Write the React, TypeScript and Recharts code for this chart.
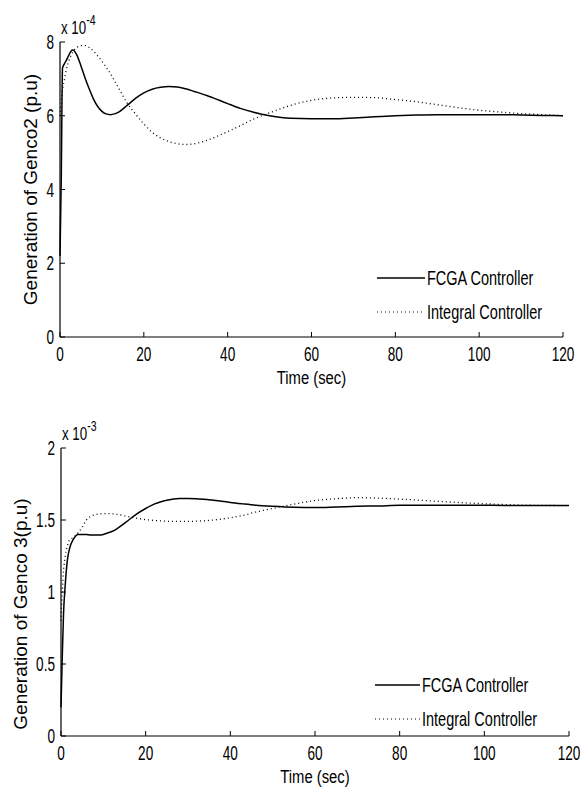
import React from 'react';
import { LineChart, Line, XAxis, YAxis, Legend } from 'recharts';

// shared time grid (sec)
const timeSec = [0, 0.3, 0.6, 1, 1.5, 2, 3, 4, 5, 6, 7, 8, 9, 10, 11, 12, 13, 14, 16, 18, 20, 22, 24, 26, 28, 30, 32, 35, 38, 40, 43, 46, 50, 55, 60, 65, 70, 75, 80, 85, 90, 95, 100, 105, 110, 115, 120];

// Genco2, units of 1e-4 p.u
const genco2Fcga = [2.2, 4.3, 7.3, 7.4, 7.5, 7.62, 7.78, 7.65, 7.35, 7.02, 6.72, 6.45, 6.25, 6.12, 6.05, 6.03, 6.05, 6.1, 6.28, 6.47, 6.62, 6.72, 6.77, 6.79, 6.78, 6.73, 6.66, 6.55, 6.42, 6.33, 6.2, 6.1, 6.0, 5.93, 5.92, 5.92, 5.94, 5.97, 6.0, 6.02, 6.03, 6.03, 6.03, 6.03, 6.02, 6.01, 6.0];
const genco2Integral = [6.0, 6.4, 6.7, 6.95, 7.25, 7.45, 7.72, 7.85, 7.9, 7.9, 7.85, 7.75, 7.62, 7.48, 7.32, 7.15, 6.95, 6.75, 6.35, 6.05, 5.78, 5.55, 5.4, 5.3, 5.24, 5.22, 5.24, 5.33, 5.47, 5.57, 5.73, 5.9, 6.08, 6.28, 6.42, 6.48, 6.5, 6.49, 6.44, 6.38, 6.3, 6.22, 6.15, 6.1, 6.06, 6.03, 6.0];

// Genco3, units of 1e-3 p.u
const genco3Fcga = [0.2, 0.55, 0.85, 1.05, 1.22, 1.3, 1.37, 1.4, 1.4, 1.4, 1.395, 1.395, 1.395, 1.4, 1.41, 1.42, 1.435, 1.455, 1.5, 1.545, 1.58, 1.61, 1.63, 1.643, 1.65, 1.65, 1.648, 1.64, 1.63, 1.622, 1.612, 1.603, 1.595, 1.588, 1.586, 1.59, 1.595, 1.598, 1.602, 1.603, 1.603, 1.602, 1.602, 1.601, 1.6, 1.6, 1.6];
const genco3Integral = [0.8, 1.0, 1.15, 1.25, 1.32, 1.36, 1.38, 1.41, 1.45, 1.5, 1.525, 1.537, 1.542, 1.544, 1.544, 1.543, 1.54, 1.535, 1.523, 1.512, 1.503, 1.497, 1.493, 1.49, 1.49, 1.49, 1.492, 1.497, 1.507, 1.515, 1.532, 1.555, 1.58, 1.61, 1.635, 1.648, 1.655, 1.652, 1.645, 1.637, 1.628, 1.62, 1.613, 1.607, 1.603, 1.601, 1.6];

const xTicks = [0, 20, 40, 60, 80, 100, 120];
const yTicksTop = [0, 2, 4, 6, 8];
const yTicksBottom = [0, 0.5, 1, 1.5, 2];

const SANS = '"Liberation Sans", Arial, sans-serif';

const top = timeSec.map((t, i) => ({ t, fcga: genco2Fcga[i], integral: genco2Integral[i] }));
const bottom = timeSec.map((t, i) => ({ t, fcga: genco3Fcga[i], integral: genco3Integral[i] }));

// matlab-ish tall condensed labels
const XTick = ({ x, y, payload }: any) => (
  <text transform={`translate(${x},${y}) scale(0.68,1)`} textAnchor="middle" dy="0.72em"
    fontFamily={SANS} fontSize={20} fill="#000">{payload.value}</text>
);
const YTick = ({ x, y, payload }: any) => (
  <text transform={`translate(${x},${y}) scale(0.68,1)`} textAnchor="end" dy="0.36em"
    fontFamily={SANS} fontSize={20} fill="#000">{payload.value}</text>
);

const YLabel = ({ viewBox, text, lx, shift }: any) => {
  const cy = viewBox.y + viewBox.height / 2 + shift;
  return (
    <text x={lx} y={cy} transform={`rotate(-90, ${lx}, ${cy})`} textAnchor="middle" dominantBaseline="central"
      fontFamily={SANS} fontSize={19} fill="#000">{text}</text>
  );
};

const XLabel = ({ viewBox }: any) => {
  const cx = viewBox.x + viewBox.width / 2;
  const cy = viewBox.y + 41;
  return (
    <text transform={`translate(${cx},${cy}) scale(0.78,1)`} textAnchor="middle" dominantBaseline="central"
      fontFamily={SANS} fontSize={19} fill="#000">Time (sec)</text>
  );
};

const LegendBox = ({ payload, lineW }: any) => (
  <div>
    {(payload || []).map((e: any) => (
      <div key={e.value} style={{ height: 34, display: 'flex', alignItems: 'center' }}>
        <svg width={lineW} height={10} style={{ flex: 'none' }}>
          <line x1={0} x2={lineW} y1={5} y2={5} stroke="#000"
            strokeWidth={e.payload?.strokeDasharray ? 1.2 : 1.5}
            strokeDasharray={e.payload?.strokeDasharray} />
        </svg>
        <span style={{ fontFamily: SANS, fontSize: 21, marginLeft: 2, display: 'inline-block', whiteSpace: 'nowrap',
          transform: 'scaleX(0.69)', transformOrigin: 'left center' }}>{e.value}</span>
      </div>
    ))}
  </div>
);

const Plot = ({ data, yDomain, yTicks, yLabel, lx, shift, exp, margin, height, legendTop, legendLeft, lineW }: any) => (
  <div style={{ position: 'relative', width: 587, height }}>
    <LineChart width={587} height={height} data={data} margin={margin}>
      <XAxis xAxisId="b" dataKey="t" type="number" domain={[0, 120]} ticks={xTicks}
        height={49} tickSize={-5} tickMargin={15} tick={<XTick />}
        stroke="#000" axisLine={{ stroke: '#000', strokeWidth: 1.2 }} tickLine={{ stroke: '#000' }}
        label={{ content: (p: any) => <XLabel viewBox={p.viewBox} /> }} />
      <XAxis xAxisId="t" orientation="top" dataKey="t" type="number" domain={[0, 120]} ticks={xTicks}
        height={0} tickSize={-5} tick={() => <g />} stroke="#000" />
      <YAxis yAxisId="l" type="number" domain={yDomain} ticks={yTicks} width={60}
        tickSize={-5} tickMargin={11} tick={<YTick />} stroke="#000"
        axisLine={{ stroke: '#000', strokeWidth: 1.2 }}
        label={{ content: (p: any) => <YLabel viewBox={p.viewBox} text={yLabel} lx={lx} shift={shift} /> }} />
      <YAxis yAxisId="r" orientation="right" type="number" domain={yDomain} ticks={yTicks} width={0}
        tickSize={-5} tick={() => <g />} stroke="#000" />
      <Legend layout="vertical" align="center" verticalAlign="middle"
        wrapperStyle={{ left: legendLeft, top: legendTop, width: 200 }}
        content={(p: any) => <LegendBox payload={p.payload} lineW={lineW} />} />
      <Line xAxisId="b" yAxisId="l" dataKey="fcga" name="FCGA Controller" stroke="#000" strokeWidth={1.5}
        dot={false} type="monotone" isAnimationActive={false} />
      <Line xAxisId="b" yAxisId="l" dataKey="integral" name="Integral Controller" stroke="#000" strokeWidth={1.3}
        strokeDasharray="1 3" dot={false} type="monotone" isAnimationActive={false} />
    </LineChart>
    <div style={{ position: 'absolute', left: margin.left + 61, top: margin.top - 25, fontFamily: SANS, fontSize: 19,
      whiteSpace: 'nowrap', transform: 'scaleX(0.7)', transformOrigin: 'left top' }}>
      x 10<span style={{ fontSize: 15, position: 'relative', top: -9 }}>{exp}</span>
    </div>
  </div>
);

export default function App() {
  return (
    <div style={{ position: 'absolute', left: 0, top: 0, width: 587, height: 790, background: '#fff' }}>
      <Plot data={top} yDomain={[0, 8]} yTicks={yTicksTop} yLabel="Generation of Genco2 (p.u)" lx={30} shift={0} exp="-4"
        margin={{ top: 42, right: 24, left: 0, bottom: 14 }} height={400}
        legendTop={261} legendLeft={377} lineW={48} />
      <Plot data={bottom} yDomain={[0, 2]} yTicks={yTicksBottom} yLabel="Generation of Genco 3(p.u)" lx={20} shift={22} exp="-3"
        margin={{ top: 48, right: 18, left: 1, bottom: 5 }} height={390}
        legendTop={268} legendLeft={375} lineW={45} />
    </div>
  );
}
